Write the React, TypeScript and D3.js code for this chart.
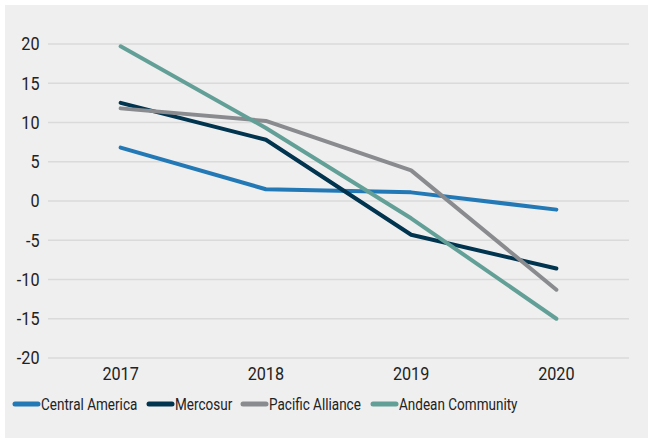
import React from "react";
import * as d3 from "d3";

const years = ["2017", "2018", "2019", "2020"];
const seriesNames = ["Central America", "Mercosur", "Pacific Alliance", "Andean Community"];
const centralAmerica = [6.8, 1.5, 1.1, -1.1];
const mercosur = [12.5, 7.8, -4.3, -8.6];
const pacificAlliance = [11.8, 10.2, 3.9, -11.3];
const andeanCommunity = [19.7, 9.3, -2.2, -15.0];
const yTicks = [20, 15, 10, 5, 0, -5, -10, -15, -20];
const colors = ["#2379b5", "#00344f", "#898b8e", "#62a097"];

const W = 648;
const H = 439;

export default function App() {
  const allSeries = [centralAmerica, mercosur, pacificAlliance, andeanCommunity];
  const x = d3.scaleBand<string>().domain(years).range([48, 629]);
  const y = d3.scaleLinear().domain([-20, 20]).range([358, 44]);
  const line = d3
    .line<number>()
    .x((_, i) => (x(years[i]) as number) + x.bandwidth() / 2)
    .y((d) => y(d));

  const legendX = [13, 147, 241, 371];
  const fontFamily = "Roboto, 'Noto Sans', sans-serif";

  return (
    <svg
      width={W}
      height={H}
      style={{ position: "absolute", left: 0, top: 0, background: "#ffffff" }}
    >
      <rect x={5} y={5} width={W - 5} height={433} fill="#efefef" />
      {yTicks.map((t) => (
        <g key={t}>
          <line x1={48} x2={629} y1={y(t)} y2={y(t)} stroke="#dadada" strokeWidth={1.5} />
          <text
            transform={`translate(39.5,${y(t)}) scale(0.9,1)`}
            dy="0.35em"
            textAnchor="end"
            fontFamily={fontFamily}
            fontSize={18}
            fill="#222"
          >
            {t}
          </text>
        </g>
      ))}
      {years.map((yr) => (
        <text
          key={yr}
          transform={`translate(${(x(yr) as number) + x.bandwidth() / 2},373.5) scale(0.9,1)`}
          dy="0.35em"
          textAnchor="middle"
          fontFamily={fontFamily}
          fontSize={18}
          fill="#222"
        >
          {yr}
        </text>
      ))}
      {allSeries.map((s, i) => (
        <path
          key={seriesNames[i]}
          d={line(s) || ""}
          fill="none"
          stroke={colors[i]}
          strokeWidth={4}
          strokeLinecap="round"
          strokeLinejoin="round"
        />
      ))}
      {seriesNames.map((n, i) => (
        <g key={n}>
          <line
            x1={legendX[i] + 2}
            x2={legendX[i] + 25}
            y1={404}
            y2={404}
            stroke={colors[i]}
            strokeWidth={5}
            strokeLinecap="round"
          />
          <text
            transform={`translate(${legendX[i] + 28},404.5) scale(0.82,1)`}
            dy="0.35em"
            fontFamily={fontFamily}
            fontSize={16.5}
            fill="#222"
          >
            {n}
          </text>
        </g>
      ))}
    </svg>
  );
}
